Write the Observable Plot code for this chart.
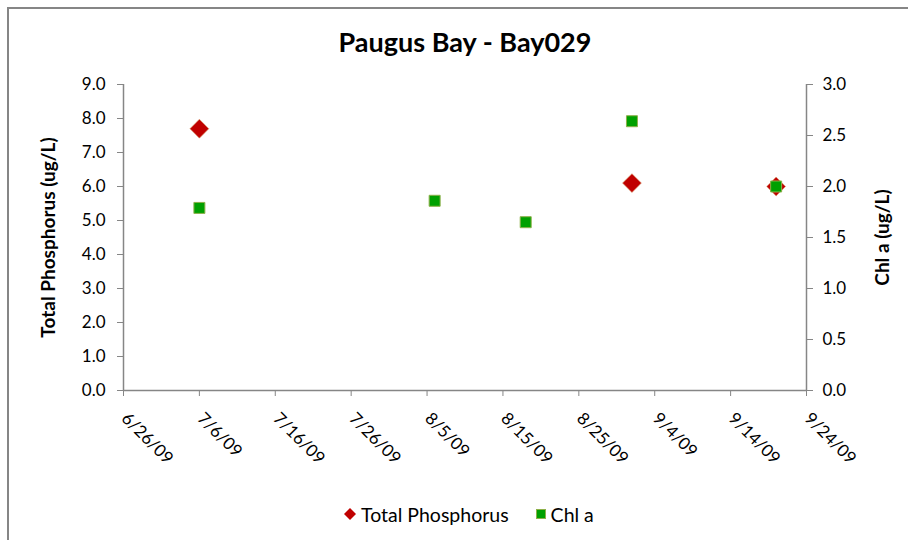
<!DOCTYPE html>
<html>
<head>
<meta charset="utf-8">
<script src="https://cdn.jsdelivr.net/npm/d3@7"></script>
<script src="https://cdn.jsdelivr.net/npm/@observablehq/plot@0.6"></script>
<style>
  html, body { margin: 0; padding: 0; background: #fff; }
  #wrap { position: relative; width: 908px; height: 540px; overflow: hidden; font-family: Lato, "Open Sans", sans-serif; }
  #border { position: absolute; left: 7px; top: 7px; width: 1200px; height: 1200px; border-left: 2px solid #868686; border-top: 2px solid #868686; }
  #title { position: absolute; left: 0; top: 0; width: 930px; height: 70px; line-height: 84px; text-align: center; font-weight: bold; font-size: 27px; color: #000; }
  #chart { position: absolute; left: 0; top: 70px; }
  #legend { position: absolute; left: 343px; top: 502px; height: 24px; display: flex; align-items: center; font-size: 19.5px; color: #000; }
  #legend .item { display: flex; align-items: center; margin-right: 26px; }
  #legend svg { margin-right: 4px; }
</style>
</head>
<body>
<div id="wrap">
  <div id="border"></div>
  <div id="title">Paugus Bay - Bay029</div>
  <div id="chart"></div>
  <div id="legend"></div>
</div>
<script>
// ---- data ----
const tpDates = ["2009-07-06", "2009-09-01", "2009-09-20"];
const tpValues = [7.7, 6.1, 6.0];
const chlDates = ["2009-07-06", "2009-08-06", "2009-08-18", "2009-09-01", "2009-09-20"];
const chlValues = [1.79, 1.86, 1.65, 2.64, 2.0];
const xTickDates = ["2009-06-26", "2009-07-06", "2009-07-16", "2009-07-26", "2009-08-05", "2009-08-15", "2009-08-25", "2009-09-04", "2009-09-14", "2009-09-24"];
const xTickLabels = ["6/26/09", "7/6/09", "7/16/09", "7/26/09", "8/5/09", "8/15/09", "8/25/09", "9/4/09", "9/14/09", "9/24/09"];
const leftTicks = [0, 1, 2, 3, 4, 5, 6, 7, 8, 9];
const rightTicks = [0, 0.5, 1, 1.5, 2, 2.5, 3];
const seriesNames = ["Total Phosphorus", "Chl a"];

// ---- build ----
const RATIO = 3; // left max 9 / right max 3
const parse = s => new Date(s + "T00:00:00Z");
const tp = tpDates.map((d, i) => ({date: parse(d), value: tpValues[i]}));
const chl = chlDates.map((d, i) => ({date: parse(d), value: chlValues[i] * RATIO}));
const ticks = xTickDates.map(parse);
const labelData = ticks.map((d, i) => ({date: d, label: xTickLabels[i]}));

const red = "#C00000";
const green = "#00A000";
const axisColor = "#868686";

const chart = Plot.plot({
  width: 908,
  height: 400,
  marginTop: 14,
  marginBottom: 80,
  marginLeft: 123,
  marginRight: 102,
  style: {fontFamily: "Lato, 'Open Sans', sans-serif", fontSize: "17px", color: "#000", background: "transparent"},
  x: {type: "utc", domain: [ticks[0], ticks[ticks.length - 1]]},
  y: {domain: [0, 9]},
  marks: [
    Plot.axisY({anchor: "left", ticks: leftTicks, tickSize: 6, tickPadding: 12, tickFormat: d => d.toFixed(1), label: null, stroke: axisColor, fontSize: 17, fill: "#000"}),
    Plot.axisY({anchor: "right", ticks: rightTicks.map(v => v * RATIO), tickSize: 6, tickPadding: 10, tickFormat: d => (d / RATIO).toFixed(1), label: null, stroke: axisColor, fontSize: 17, fill: "#000"}),
    Plot.axisX({ticks: ticks, tickSize: 6, tickFormat: () => "", label: null, stroke: axisColor}),
    Plot.text(labelData, {x: "date", text: "label", frameAnchor: "bottom", rotate: 45, textAnchor: "start", dx: -3, dy: 29, fontSize: 17, fill: "#000"}),
    Plot.ruleX([ticks[0]], {stroke: axisColor, strokeWidth: 1.5}),
    Plot.ruleX([ticks[ticks.length - 1]], {stroke: axisColor, strokeWidth: 1.5}),
    Plot.ruleY([0], {stroke: axisColor, strokeWidth: 1.5}),
    Plot.text(["Total Phosphorus (ug/L)"], {frameAnchor: "left", textAnchor: "middle", rotate: -90, dx: -75, fontWeight: "bold", fontSize: 19, fill: "#000"}),
    Plot.text(["Chl a (ug/L)"], {frameAnchor: "right", textAnchor: "middle", rotate: -90, dx: 76, fontWeight: "bold", fontSize: 19, fill: "#000"}),
    Plot.dot(tp, {x: "date", y: "value", symbol: "diamond2", r: 8.5, fill: red, stroke: "#D8A070", strokeWidth: 0.6}),
    Plot.dot(chl, {x: "date", y: "value", symbol: "square", r: 6.2, fill: green, stroke: "#8DB04A", strokeWidth: 1})
  ]
});
document.getElementById("chart").appendChild(chart);

// ---- legend ----
const legend = document.getElementById("legend");
const symbols = [
  `<svg width="14" height="14" viewBox="-7 -7 14 14"><path d="M0,-6L6,0L0,6L-6,0Z" fill="${red}"/></svg>`,
  `<svg width="12" height="12" viewBox="-6 -6 12 12"><rect x="-4.5" y="-4.5" width="9" height="9" fill="${green}" stroke="#8DB04A" stroke-width="1"/></svg>`
];
seriesNames.forEach((name, i) => {
  const item = document.createElement("div");
  item.className = "item";
  item.innerHTML = symbols[i] + `<span>${name}</span>`;
  legend.appendChild(item);
});
</script>
</body>
</html>
